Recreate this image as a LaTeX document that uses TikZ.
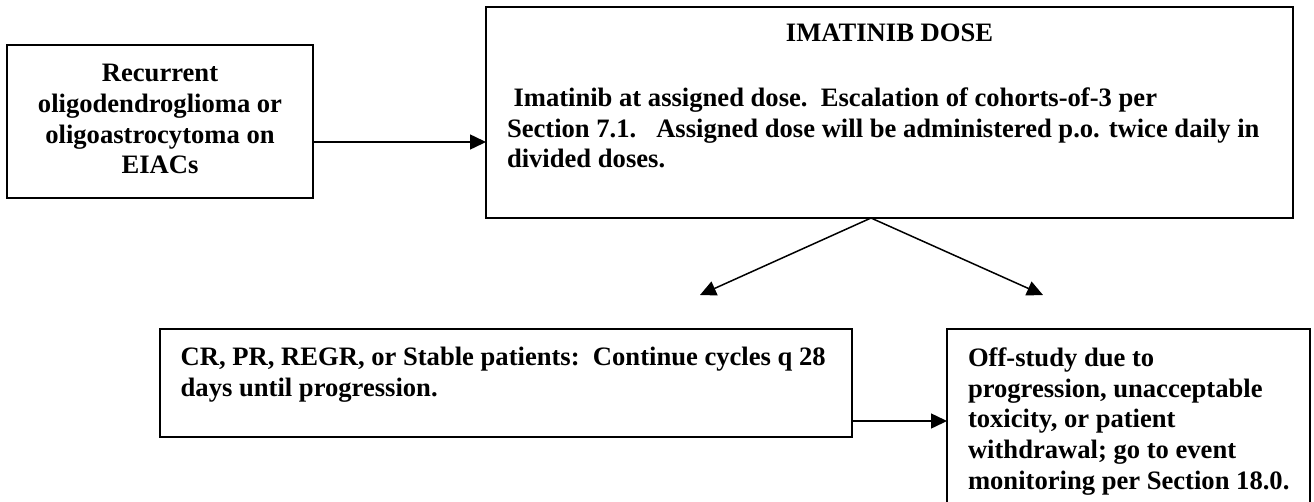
\documentclass[tikz,border=0pt]{standalone}
\usepackage{fontspec}
\setmainfont{Liberation Serif}
\usetikzlibrary{arrows.meta}
\tikzset{
  box/.style={draw=black, line width=1.8pt, rectangle, inner sep=0pt, outer sep=0pt},
  txt/.style={inner sep=0pt, outer sep=0pt, font=\fontsize{26.6}{30.8}\selectfont\bfseries},
  arr/.style={draw=black, line width=1.5pt, -{Triangle[length=16pt,width=15pt]}}
}
\begin{document}
\begin{tikzpicture}[x=1pt,y=-1pt]
\useasboundingbox (0,0) rectangle (1314,501);
\begin{scope}
\clip (0,0) rectangle (1314,501);
% boxes
\node[box, minimum width=306pt, minimum height=153pt] (A) at (160,121.5) {};
\node[box, minimum width=807pt, minimum height=211pt] (B) at (889.5,112.5) {};
\node[box, minimum width=692pt, minimum height=108pt] (C) at (506,383) {};
\node[box, minimum width=363pt, minimum height=190pt] (D) at (1128.5,424) {};
% texts
\node[txt, anchor=north, align=center] (tA) at (160,64)
  {Recurrent\\oligodendroglioma or\\oligoastrocytoma on\\EIACs};
\node[txt, anchor=north] (tB) at (889.5,23.5) {IMATINIB DOSE};
\node[txt, anchor=north west, align=left] (bB) at (507,87.5)
  {\hspace*{6.5pt}Imatinib at assigned dose.\ \ Escalation of cohorts-of-3 per\\
   Section 7.1.\ \ \ Assigned dose will be administered p.o. twice daily in\\
   divided doses.};
\node[txt, anchor=north west, align=left] (tC) at (180.7,347.5)
  {CR, PR, REGR, or Stable patients:\ \ Continue cycles q 28\\days until progression.};
\node[txt, anchor=north west, align=left] (tD) at (968,347.5)
  {Off-study due to\\progression, unacceptable\\toxicity, or patient\\withdrawal; go to event\\monitoring per Section 18.0.};
% connectors
\coordinate (tipC) at (700,295);
\coordinate (tipD) at (1043,295);
\draw[arr] (A.east |- 0,142) -- (B.west |- 0,142);
\draw[arr] (B.south -| 871,0) -- (tipC);
\draw[arr] (B.south -| 871,0) -- (tipD);
\draw[arr] (C.east |- 0,421) -- (D.west |- 0,421);
\end{scope}
\end{tikzpicture}
\end{document}
